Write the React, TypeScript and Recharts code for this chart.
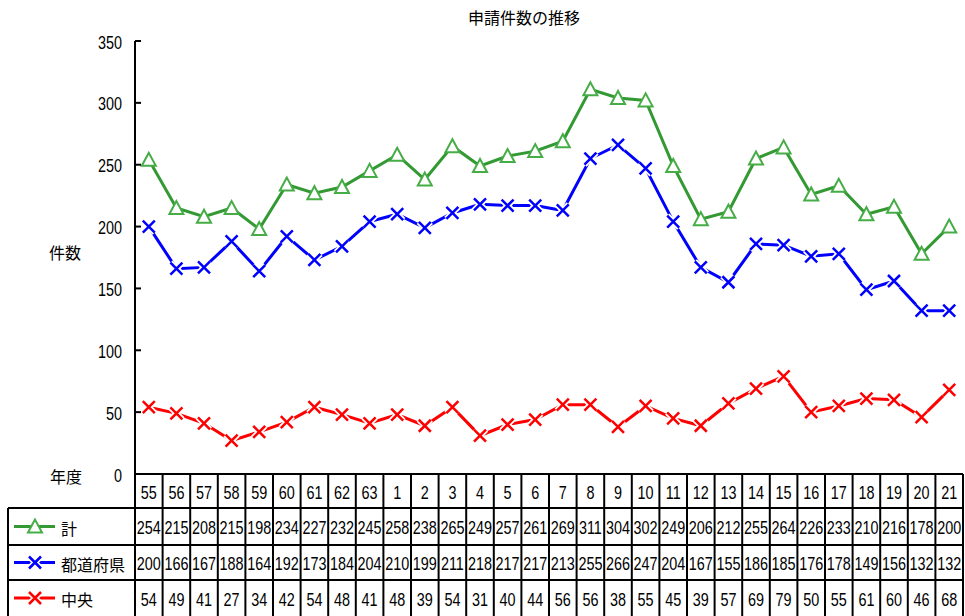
import React from 'react';
import { ComposedChart, Line, XAxis, YAxis, Customized } from 'recharts';

const years = ['55', '56', '57', '58', '59', '60', '61', '62', '63', '1', '2', '3', '4', '5', '6', '7', '8', '9', '10', '11', '12', '13', '14', '15', '16', '17', '18', '19', '20', '21'];
const totals = [254, 215, 208, 215, 198, 234, 227, 232, 245, 258, 238, 265, 249, 257, 261, 269, 311, 304, 302, 249, 206, 212, 255, 264, 226, 233, 210, 216, 178, 200];
const prefectures = [200, 166, 167, 188, 164, 192, 173, 184, 204, 210, 199, 211, 218, 217, 217, 213, 255, 266, 247, 204, 167, 155, 186, 185, 176, 178, 149, 156, 132, 132];
const central = [54, 49, 41, 27, 34, 42, 54, 48, 41, 48, 39, 54, 31, 40, 44, 56, 56, 38, 55, 45, 39, 57, 69, 79, 50, 55, 61, 60, 46, 68];
const yTicks = [0, 50, 100, 150, 200, 250, 300, 350];

const data = years.map((y, i) => ({ year: y, total: totals[i], pref: prefectures[i], central: central[i] }));

const W = 965;
const H = 616;
const PLOT_LEFT = 135;
const PLOT_RIGHT = 963;
const PLOT_TOP = 41;
const PLOT_BOTTOM = 474;
const COL_W = (PLOT_RIGHT - PLOT_LEFT) / years.length;
const ROWS = [474, 508, 545, 580, 616];

const GREEN = '#339933';
const GREEN_MK = '#46ad46';
const BLUE = '#0000ff';
const RED = '#ff0000';
const NUM_FONT = '"Liberation Sans", Arial, sans-serif';
const JP_FONT = '"Noto Sans CJK JP", sans-serif';

const series = [
  { key: 'total', name: '計', color: GREEN, values: totals },
  { key: 'pref', name: '都道府県', color: BLUE, values: prefectures },
  { key: 'central', name: '中央', color: RED, values: central },
];

// narrow digits like the original (no condensed font installed)
const Num = ({ x, y, anchor = 'middle', children }: any) => (
  <text
    transform={`translate(${x},${y}) scale(0.8,1)`}
    x={0}
    y={0}
    textAnchor={anchor}
    dominantBaseline="central"
    fontSize={18}
    fontFamily={NUM_FONT}
    fill="#000"
  >
    {children}
  </text>
);

const Triangle = ({ cx, cy }: any) => (
  <polygon
    points={`${cx},${cy - 7} ${cx - 7},${cy + 6} ${cx + 7},${cy + 6}`}
    fill="#fff"
    stroke={GREEN_MK}
    strokeWidth={2}
  />
);

const makeCross = (color: string) => ({ cx, cy }: any) => (
  <g>
    <path d={`M${cx - 6},${cy - 6}L${cx + 6},${cy + 6}M${cx - 6},${cy + 6}L${cx + 6},${cy - 6}`} stroke="#fff" strokeWidth={6} />
    <path d={`M${cx - 6},${cy - 6}L${cx + 6},${cy + 6}M${cx - 6},${cy + 6}L${cx + 6},${cy - 6}`} stroke={color} strokeWidth={2.5} />
  </g>
);

const markerFor = (key: string, cx: number, cy: number) => {
  if (key === 'total') return <Triangle cx={cx} cy={cy} />;
  return makeCross(key === 'pref' ? BLUE : RED)({ cx, cy });
};

// each x tick draws one table column
const TableColumn = ({ x, payload, index }: any) => {
  const i = index ?? payload.index;
  const l = x - COL_W / 2;
  const r = x + COL_W / 2;
  return (
    <g>
      <line x1={r} y1={ROWS[0]} x2={r} y2={ROWS[4]} stroke="#000" strokeWidth={2} />
      {i === 0 && <line x1={l} y1={ROWS[0]} x2={l} y2={ROWS[4]} stroke="#000" strokeWidth={2} />}
      {[1, 2, 3].map((k) => (
        <line key={k} x1={l} y1={ROWS[k]} x2={r} y2={ROWS[k]} stroke="#000" strokeWidth={2} />
      ))}
      <Num x={x} y={(ROWS[0] + ROWS[1]) / 2 + 1}>{payload.value}</Num>
      {series.map((s, k) => (
        <Num key={s.key} x={x} y={(ROWS[k + 1] + ROWS[k + 2]) / 2 + 1}>
          {s.values[i]}
        </Num>
      ))}
    </g>
  );
};

const YTick = ({ x, y, payload }: any) => (
  <g>
    <line x1={PLOT_LEFT} y1={y} x2={PLOT_LEFT + 6} y2={y} stroke="#000" strokeWidth={2} />
    <Num x={x} y={y + 1} anchor="end">{payload.value}</Num>
  </g>
);

const Extras = () => (
  <g>
    <text x={524} y={17} textAnchor="middle" dominantBaseline="central" fontSize={16} fontFamily={JP_FONT} fill="#000">
      申請件数の推移
    </text>
    <text x={65} y={252} textAnchor="middle" dominantBaseline="central" fontSize={16} fontFamily={JP_FONT} fill="#000">
      件数
    </text>
    <text x={66} y={476} textAnchor="middle" dominantBaseline="central" fontSize={16} fontFamily={JP_FONT} fill="#000">
      年度
    </text>
    <line x1={8} y1={ROWS[1]} x2={8} y2={ROWS[4]} stroke="#000" strokeWidth={2} />
    {[1, 2, 3].map((k) => (
      <line key={k} x1={8} y1={ROWS[k]} x2={PLOT_LEFT} y2={ROWS[k]} stroke="#000" strokeWidth={2} />
    ))}
    {series.map((s, k) => {
      const cy = (ROWS[k + 1] + ROWS[k + 2]) / 2;
      return (
        <g key={s.key}>
          <line x1={14} y1={cy} x2={55} y2={cy} stroke={s.color} strokeWidth={3} />
          {markerFor(s.key, 35, cy)}
          <text x={61} y={cy + 1} dominantBaseline="central" fontSize={16} fontFamily={JP_FONT} fill="#000">
            {s.name}
          </text>
        </g>
      );
    })}
  </g>
);

export default function App() {
  return (
    <div style={{ position: 'absolute', left: 0, top: 0, width: W, height: H, background: '#fff' }}>
      <ComposedChart
        width={W}
        height={H}
        data={data}
        margin={{ top: PLOT_TOP, right: W - PLOT_RIGHT, bottom: 0, left: 0 }}
      >
        <XAxis
          dataKey="year"
          axisLine={{ stroke: '#000', strokeWidth: 2 }}
          tickLine={false}
          tick={<TableColumn />}
          interval={0}
          height={H - PLOT_BOTTOM}
          padding={{ left: COL_W / 2, right: COL_W / 2 }}
        />
        <YAxis
          width={PLOT_LEFT}
          domain={[0, 350]}
          ticks={yTicks}
          axisLine={{ stroke: '#000', strokeWidth: 2 }}
          tickLine={false}
          tickSize={0}
          tickMargin={13}
          tick={<YTick />}
          interval={0}
        />
        <Line dataKey="total" stroke={GREEN} strokeWidth={3} isAnimationActive={false} dot={<Triangle />} activeDot={false} />
        <Line dataKey="pref" stroke={BLUE} strokeWidth={3} isAnimationActive={false} dot={makeCross(BLUE)} activeDot={false} />
        <Line dataKey="central" stroke={RED} strokeWidth={3} isAnimationActive={false} dot={makeCross(RED)} activeDot={false} />
        <Customized component={Extras} />
      </ComposedChart>
    </div>
  );
}
